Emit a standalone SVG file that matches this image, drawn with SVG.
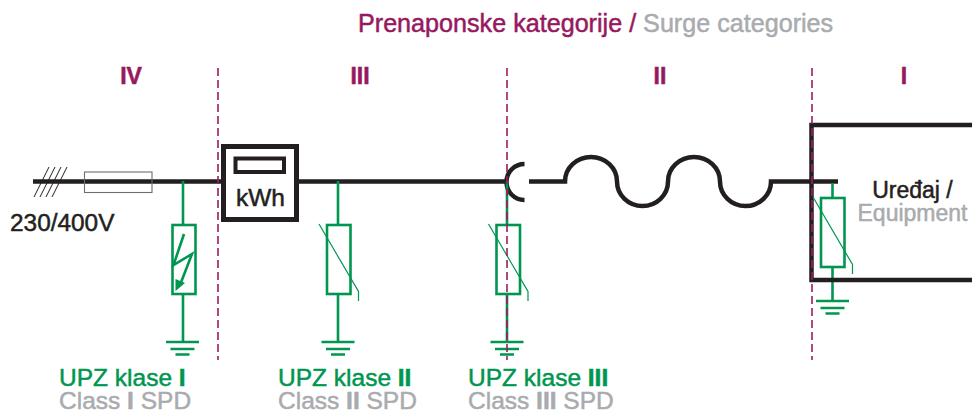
<svg xmlns="http://www.w3.org/2000/svg" width="972" height="410" viewBox="0 0 972 410">
<style>
text{font-family:"Liberation Sans",Arial,sans-serif}
.w{fill:none;stroke:#231f20;stroke-width:4.500}
.g{fill:none;stroke:#00964f;stroke-width:2.600}
.t{fill:none;stroke:#00964f;stroke-width:1.200}
.d{fill:none;stroke:#9b1c62;stroke-width:1.600;stroke-dasharray:8 4}
.m{fill:#96195f;stroke:#96195f;stroke-width:.5}
.k{fill:#231f20;stroke:#231f20;stroke-width:.5}
.s{fill:#a9abae;stroke:#a9abae;stroke-width:.5}
.u{fill:#00964f;stroke:#00964f;stroke-width:.5}
.l{font-size:24.500px}
.h{font-size:25.150px}
.r{font-size:23px;text-anchor:middle;font-weight:bold}
</style>
<defs>
<g id="earth"><path class="g" d="M-16.500 0H16.500M-12 7H12M-7 12.500H7"/></g>
<g id="varistor"><rect class="g" x="-11.500" y="0" width="23.500" height="69"/><path class="t" d="M-19.500 -1L20 66.500V76"/></g>
</defs>
<g id="connectors">
<path class="w" d="M33 181.500H222M296 181.500H508"/>
<path fill="none" stroke="#231f20" stroke-width="1" d="M34 197L49 167M40 197L55 167M46 197L61 167M52 197L67 167"/>
<path class="w" d="M529 181.500H565A26 24.500 0 0 1 617 181.500A25.500 24.500 0 0 0 668 181.500A26 24.500 0 0 1 720 181.500A25.500 24.500 0 0 0 771 181.500H838"/>
<path class="w" d="M524.500 164A18 18 0 0 0 524.500 200"/>
<path class="g" d="M183 181V225M183 294V342M338 181V225M338 294V342M507 181V225M507 294V342M832.500 183V198M832.500 267V301"/>
</g>
<g id="fuse"><rect x="84.500" y="172" width="67.500" height="20.500" fill="none" stroke="#6d6e70" stroke-width="1.100"/></g>
<g id="meter">
<rect x="223.500" y="146.500" width="73" height="73" fill="#fff" stroke="#231f20" stroke-width="5"/>
<rect x="235.500" y="158.500" width="48.500" height="13.500" fill="none" stroke="#231f20" stroke-width="4"/>
<text class="k" x="260.500" y="206" font-size="24.500" text-anchor="middle">kWh</text>
</g>
<g id="spd1">
<rect class="g" x="172.500" y="225" width="23" height="69"/>
<path class="g" d="M184 234L173.500 265L192 254L180 285"/>
<path d="M175.500 291L175.500 279L185 283Z" fill="#00964f"/>
<use href="#earth" x="182.500" y="342"/>
</g>
<g id="spd2"><use href="#varistor" x="338.500" y="225"/><use href="#earth" x="338" y="342"/></g>
<g id="spd3"><use href="#varistor" x="508" y="225"/><use href="#earth" x="507" y="342"/></g>
<g id="equipment">
<path class="w" d="M972 125H811.500V280H972"/>
<use href="#varistor" x="832.500" y="198"/><use href="#earth" x="832.500" y="301"/>
<text class="k" x="912.500" y="198" font-size="23" text-anchor="middle">Uređaj /</text>
<text class="s" x="912.500" y="221" font-size="23" text-anchor="middle">Equipment</text>
</g>
<g id="dividers"><path class="d" d="M218 68V360M507 68V360M812 68V360"/></g>
<g id="labels">
<text class="h" x="358" y="32"><tspan class="m">Prenaponske kategorije / </tspan><tspan class="s">Surge categories</tspan></text>
<text class="r m" x="131" y="84">IV</text>
<text class="r m" x="360" y="84">III</text>
<text class="r m" x="660" y="84">II</text>
<text class="r m" x="904" y="84">I</text>
<text class="k" x="10" y="231" font-size="24.400">230/400V</text>
<text class="l u" x="59" y="385.500">UPZ klase <tspan font-weight="bold">I</tspan></text>
<text class="l s" x="59" y="408.500">Class <tspan font-weight="bold">I</tspan> SPD</text>
<text class="l u" x="278" y="385.500">UPZ klase <tspan font-weight="bold">II</tspan></text>
<text class="l s" x="278" y="408.500">Class <tspan font-weight="bold">II</tspan> SPD</text>
<text class="l u" x="468" y="385.500">UPZ klase <tspan font-weight="bold">III</tspan></text>
<text class="l s" x="468" y="408.500">Class <tspan font-weight="bold">III</tspan> SPD</text>
</g>
</svg>
